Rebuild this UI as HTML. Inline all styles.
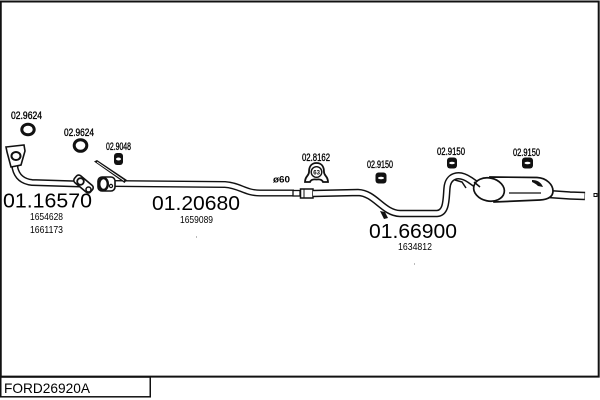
<!DOCTYPE html>
<html><head><meta charset="utf-8"><style>
html,body{margin:0;padding:0;background:#fff;}
svg{display:block;}
text{font-family:"Liberation Sans",Arial,sans-serif;fill:#000;}
</style></head><body>
<svg width="600" height="400" viewBox="0 0 600 400" xmlns="http://www.w3.org/2000/svg">
<rect x="0" y="0" width="600" height="400" fill="#fff"/>
<!-- frame -->
<path d="M0.75 377 V1.5 H598.7 V376.6 H0" fill="none" stroke="#111" stroke-width="2"/>
<rect x="0.75" y="377" width="149.5" height="19.8" fill="none" stroke="#111" stroke-width="1.5"/>
<text x="4" y="393" font-size="14" textLength="86" lengthAdjust="spacingAndGlyphs">FORD26920A</text>

<!-- labels -->
<g font-size="11" stroke="#000" stroke-width="0.35">
<text x="11" y="119" textLength="31" lengthAdjust="spacingAndGlyphs">02.9624</text>
<text x="64" y="136" textLength="30" lengthAdjust="spacingAndGlyphs">02.9624</text>
<text x="106" y="150" textLength="25" lengthAdjust="spacingAndGlyphs">02.9048</text>
<text x="302" y="161" textLength="28" lengthAdjust="spacingAndGlyphs">02.8162</text>
<text x="367" y="168" textLength="26" lengthAdjust="spacingAndGlyphs">02.9150</text>
<text x="437" y="155" textLength="28" lengthAdjust="spacingAndGlyphs">02.9150</text>
<text x="513" y="156" textLength="27" lengthAdjust="spacingAndGlyphs">02.9150</text>
</g>
<text x="273" y="182.5" font-size="9" font-weight="bold" textLength="17" lengthAdjust="spacingAndGlyphs">ø60</text>

<g font-size="20">
<text x="3" y="207.5" textLength="89" lengthAdjust="spacingAndGlyphs">01.16570</text>
<text x="152" y="210" textLength="88" lengthAdjust="spacingAndGlyphs">01.20680</text>
<text x="369" y="238" textLength="88" lengthAdjust="spacingAndGlyphs">01.66900</text>
</g>
<g font-size="10.5" fill="#222">
<text x="30" y="220" textLength="33" lengthAdjust="spacingAndGlyphs">1654628</text>
<text x="30" y="233" textLength="33" lengthAdjust="spacingAndGlyphs">1661173</text>
<text x="180" y="223" textLength="33" lengthAdjust="spacingAndGlyphs">1659089</text>
<text x="398" y="250" textLength="34" lengthAdjust="spacingAndGlyphs">1634812</text>
</g>
<rect x="196" y="236.5" width="1" height="1" fill="#777"/>
<rect x="414" y="263.5" width="1" height="1" fill="#777"/>

<!-- rings -->
<ellipse cx="28" cy="129.5" rx="6.2" ry="5.3" fill="none" stroke="#111" stroke-width="3"/>
<ellipse cx="80.5" cy="145.5" rx="6.3" ry="5.8" fill="none" stroke="#111" stroke-width="3"/>

<!-- hangers -->
<g fill="#111">
<rect x="114" y="153" width="9" height="12" rx="3"/>
<rect x="375.5" y="172.5" width="11" height="11" rx="3"/>
<rect x="447" y="157.5" width="10" height="11" rx="3"/>
<rect x="522" y="157.5" width="11" height="11" rx="3"/>
</g>
<g fill="#fff">
<ellipse cx="118.5" cy="159" rx="2.5" ry="1.5"/>
<ellipse cx="381" cy="178" rx="3" ry="1.3"/>
<ellipse cx="452" cy="163" rx="2.8" ry="1.3"/>
<ellipse cx="527.5" cy="163" rx="3" ry="1.3"/>
</g>

<!-- 02.8162 hanger -->
<path d="M305,182 C305,176 309,176 309,172 C309,166 312,163 316.5,163 C321,163 324,166 324,172 C324,176 328,176 328,182 L323,182 C322,179.5 320,179 316.5,179.5 C313,179 311,179.5 310,182 Z" fill="#fff" stroke="#111" stroke-width="1.8"/>
<circle cx="316.5" cy="172" r="5.3" fill="#fff" stroke="#111" stroke-width="1.4"/>
<text x="313.3" y="174.3" font-size="6" font-weight="bold">63</text>

<!-- front pipe -->
<g fill="none" stroke-linecap="butt" stroke-linejoin="round">
<path d="M15,162 L15,168 Q18,181 32,182.5 L80,184" stroke="#111" stroke-width="7"/>
<path d="M15,162 L15,168 Q18,181 32,182.5 L80,184" stroke="#fff" stroke-width="4"/>
</g>
<polygon points="6,147 24,145 25,151 21,165 11,167 7,152" fill="#fff" stroke="#111" stroke-width="1.6"/>
<ellipse cx="16" cy="156" rx="4.5" ry="4" fill="#fff" stroke="#111" stroke-width="2"/>
<!-- joint -->
<rect x="73" y="179.5" width="21" height="9" rx="3" fill="#fff" stroke="#111" stroke-width="1.6" transform="rotate(40 83.5 184)"/>
<circle cx="80.5" cy="181.5" r="3.3" fill="#fff" stroke="#111" stroke-width="1.8"/>
<circle cx="88.5" cy="189.5" r="2.5" fill="#fff" stroke="#111" stroke-width="1.5"/>

<!-- main pipe -->
<g fill="none" stroke-linejoin="round">
<path d="M113,183.5 L225,184.5 C240,185.5 245,193 260,193 L294,193" stroke="#111" stroke-width="7"/>
<path d="M113,183.5 L225,184.5 C240,185.5 245,193 260,193 L294,193" stroke="#fff" stroke-width="4.2"/>
</g>
<!-- second flange -->
<rect x="98" y="177" width="17" height="14" rx="4" fill="#fff" stroke="#111" stroke-width="1.6"/>
<ellipse cx="103.5" cy="184" rx="4.3" ry="6" fill="#fff" stroke="#111" stroke-width="2.4"/>
<circle cx="111" cy="186" r="1.6" fill="#fff" stroke="#111" stroke-width="1.2"/>
<!-- rod -->
<polygon points="94,161.5 97,160 127,180 124.5,183" fill="#111"/>
<line x1="97" y1="162" x2="124" y2="180.5" stroke="#fff" stroke-width="0.8"/>
<!-- connector & sleeve -->
<rect x="293" y="190.5" width="7" height="5.5" fill="#fff" stroke="#111" stroke-width="1.3"/>
<rect x="300.5" y="189" width="12.5" height="9" fill="#fff" stroke="#111" stroke-width="1.5"/>
<line x1="304" y1="189" x2="304" y2="198" stroke="#111" stroke-width="1"/>

<!-- third pipe -->
<g fill="none" stroke-linejoin="round">
<path d="M313,193.5 L358,192.5 C375,193 383,213 400,213.5 L437,213.5 C447,213 446,198 447,188 C448,176 458,172 470,180 L480,187" stroke="#111" stroke-width="7.5"/>
<path d="M313,193.5 L358,192.5 C375,193 383,213 400,213.5 L437,213.5 C447,213 446,198 447,188 C448,176 458,172 470,180 L480,187" stroke="#fff" stroke-width="4.5"/>
</g>
<path d="M380,211 L385,212 L388,218 L384,219 Z" fill="#111"/>
<path d="M455,180 L462,182 L466,188" fill="none" stroke="#111" stroke-width="1.5"/>

<!-- tailpipe -->
<g fill="none">
<path d="M548,194 L570,195.5 L585,196" stroke="#111" stroke-width="8.5"/>
<path d="M548,194 L570,195.5 L584.5,196" stroke="#fff" stroke-width="5.5"/>
</g>
<rect x="594" y="193.5" width="3" height="3" fill="#fff" stroke="#111" stroke-width="1"/>
<!-- muffler body -->
<path d="M490,177 L537,177.5 C547,178 553,185 553,191 C553,197 548,199.5 540,200 L494,202 Z" fill="#fff" stroke="#111" stroke-width="1.7"/>
<ellipse cx="489" cy="189.5" rx="15.5" ry="11.5" fill="#fff" stroke="#111" stroke-width="1.7" transform="rotate(12 489 189.5)"/>
<line x1="509" y1="193" x2="541" y2="193" stroke="#111" stroke-width="1.2"/>
<path d="M532,180 C537,180 541,182 543,187 L538,186 C536,184 534,183 532,182 Z" fill="#111"/>
<path d="M474,182 L480,187" stroke="#111" stroke-width="1.5"/>
</svg>
</body></html>
